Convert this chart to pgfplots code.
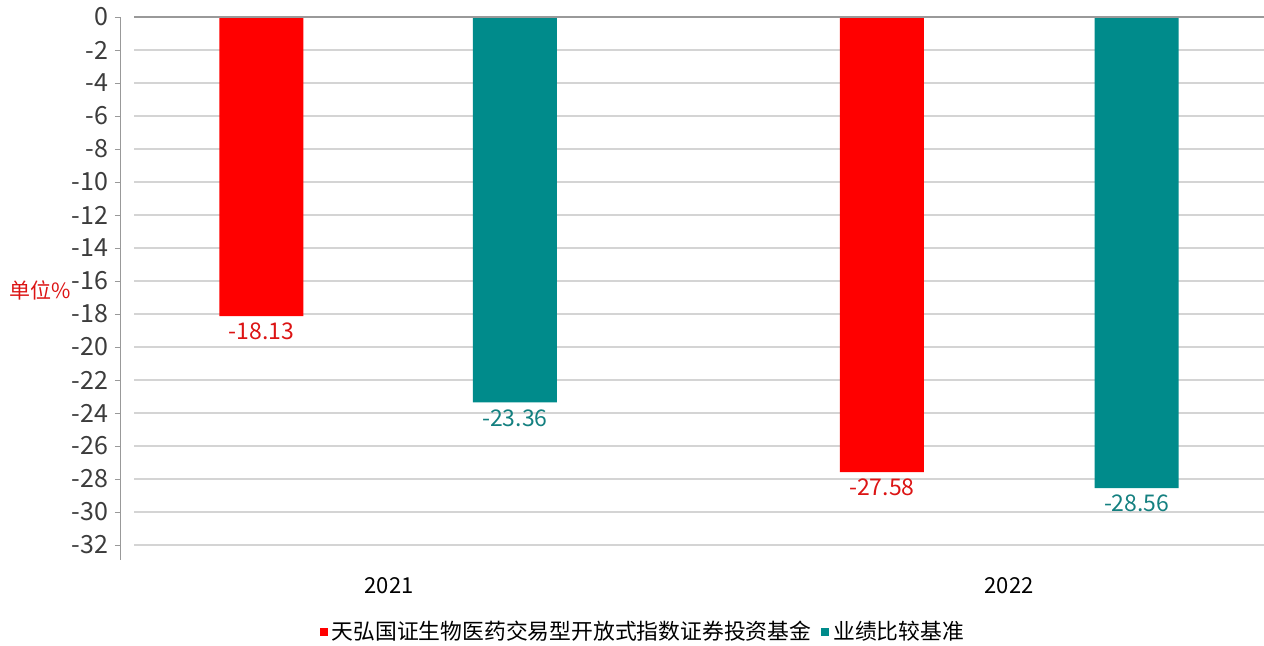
\documentclass[border=0pt]{standalone}
\usepackage{fontspec}
\setmainfont{Noto Sans CJK SC}
\usepackage{pgfplots}
\pgfplotsset{compat=1.18}
\definecolor{fundred}{RGB}{255,0,0}
\definecolor{benchteal}{RGB}{0,139,139}
\definecolor{labred}{RGB}{220,20,20}
\definecolor{labteal}{RGB}{20,128,128}
\definecolor{gridgray}{RGB}{212,212,212}
\definecolor{ticktext}{RGB}{60,60,60}
\begin{document}
\begin{tikzpicture}
\begin{axis}[
  scale only axis,
  width=572pt, height=271.5pt,
  xmin=-0.4339, xmax=1.4113,
  ymin=-32.91, ymax=0,
  axis lines=left,
  x axis line style={draw=none},
  y axis line style={draw=gray!80, -},
  tick align=outside,
  ytick={0,-2,...,-32},
  major tick length=2.5pt,
  y tick style={gray!80},
  xtick={0,1},
  xticklabels={2021,2022},
  x tick style={draw=none},
  xticklabel style={font=\fontsize{11}{13}\selectfont, yshift=-2.5pt},
  yticklabel style={font=\fontsize{12.5}{14}\selectfont, text=ticktext},
  /pgf/number format/assume math mode=true,
  ylabel={单位\%},
  ylabel style={rotate=-90, at={(rel axis cs:-0.07,0.497)}, anchor=center,
    text=labred, font=\fontsize{10.5}{13}\selectfont},
  ybar, bar shift=0pt, bar width=42pt,
  nodes near coords,
  point meta=y,
  nodes near coords style={font=\fontsize{11.5}{13}\selectfont,
    /pgf/number format/fixed, /pgf/number format/precision=2,
    /pgf/number format/fixed zerofill},
  legend columns=2,
  legend style={at={(0.458,-0.133)}, anchor=center, draw=none,
    font=\fontsize{10.9}{13}\selectfont, column sep=3pt,
    /tikz/every odd column/.append style={column sep=0pt}},
  legend image code/.code={\fill[#1] (0pt,-2pt) rectangle (4pt,2pt);},
]
\pgfplotsinvokeforeach{-2,-4,...,-32}{
  \draw[gridgray, line width=0.6pt] (axis cs:-0.411,#1) -- (axis cs:1.4113,#1);
}
\addplot[fill=fundred, draw=none, nodes near coords style={text=labred}]
  coordinates {(-0.206,-18.13) (0.795,-27.58)};
\addlegendentry{天弘国证生物医药交易型开放式指数证券投资基金}
\addplot[fill=benchteal, draw=none, nodes near coords style={text=labteal}]
  coordinates {(0.203,-23.36) (1.206,-28.56)};
\addlegendentry{业绩比较基准}
\draw[gray!80, line width=0.6pt] (axis cs:-0.411,0) -- (axis cs:1.4113,0);
\end{axis}
\pgfresetboundingbox
\path[use as bounding box] (-60pt,-43pt) rectangle (572pt,280pt);
\end{tikzpicture}
\end{document}
